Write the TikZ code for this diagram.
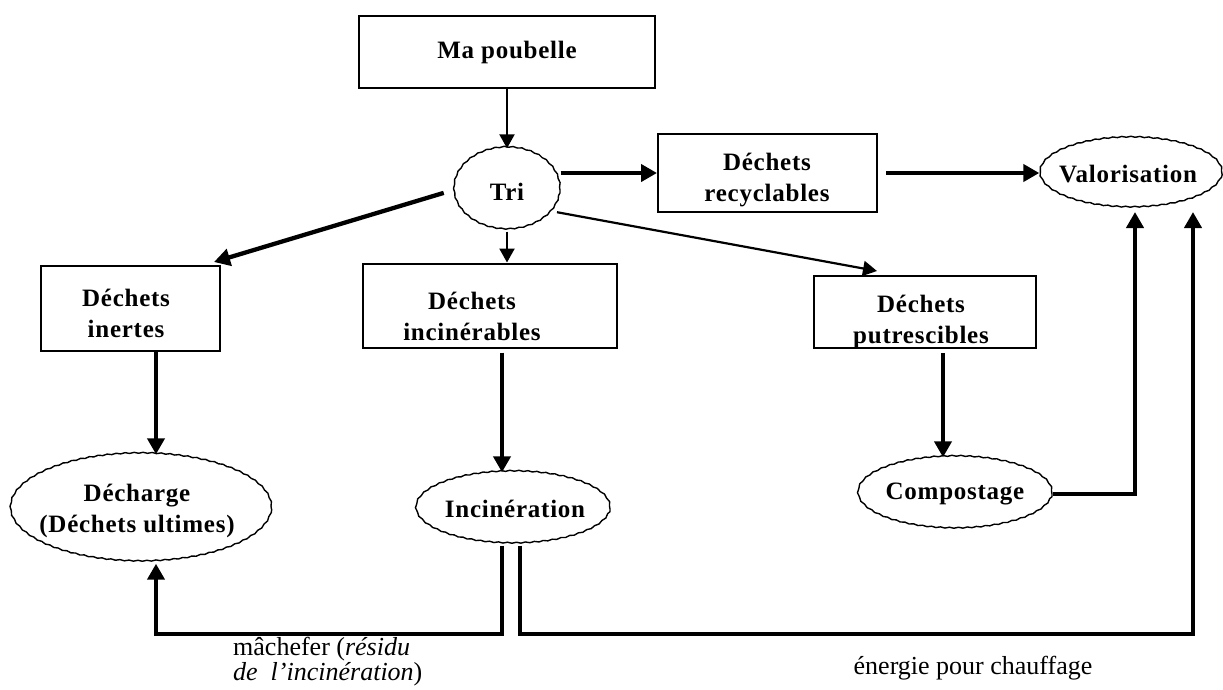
\documentclass[tikz,border=0pt]{standalone}
\usepackage{fontspec}
\setmainfont{Liberation Serif}
\newfontfamily\lsb{Liberation Serif}[LetterSpace=3]
\usetikzlibrary{arrows.meta,shapes.geometric,decorations.pathmorphing}
\begin{document}
\begin{tikzpicture}[x=1pt,y=-1pt,
  boxshape/.style={draw, line width=2pt, rectangle, inner sep=0},
  ovalshape/.style={draw, line width=1.4pt, ellipse, inner sep=0, decorate,
     decoration={snake, amplitude=0.5pt, segment length=9pt}},
  boxtxt/.style={font=\lsb\bfseries\fontsize{25}{31}\selectfont, align=center, inner sep=0},
  lbl/.style={font=\fontsize{26}{25}\selectfont, align=left, inner sep=0},
  thickarr/.style={line width=4.3pt, line join=miter, -{Triangle[length=16pt,width=17pt]}},
  thinarr/.style={line width=2.2pt, -{Triangle[length=14pt,width=15pt]}}]
\useasboundingbox (0,0) rectangle (1223,689);
% shapes
\node[boxshape, minimum width=296pt, minimum height=72pt] (mp) at (507,52) {};
\node[ovalshape, minimum width=106pt, minimum height=82pt] (tri) at (507,190) {};
\node[boxshape, minimum width=219pt, minimum height=78pt] (rec) at (767.5,173) {};
\node[ovalshape, minimum width=182pt, minimum height=70pt] (val) at (1131,174) {};
\node[boxshape, minimum width=179pt, minimum height=85pt] (ine) at (130.5,308.5) {};
\node[boxshape, minimum width=254pt, minimum height=84pt] (inc) at (490,305.5) {};
\node[boxshape, minimum width=222pt, minimum height=72pt] (put) at (925,312) {};
\node[ovalshape, minimum width=261pt, minimum height=108pt] (dec) at (141,509) {};
\node[ovalshape, minimum width=194pt, minimum height=72pt] (icn) at (513,509) {};
\node[ovalshape, minimum width=194pt, minimum height=72pt] (com) at (955,494) {};
% texts
\node[boxtxt] (mpt) at (507,52) {Ma poubelle};
\node[boxtxt] (trit) at (507,192) {Tri};
\node[boxtxt] (rect) at (767,180) {Déchets\\recyclables};
\node[boxtxt] (valt) at (1128,174) {Valorisation};
\node[boxtxt] (inet) at (126,313) {Déchets\\inertes};
\node[boxtxt] (inct) at (472,316) {Déchets\\incinérables};
\node[boxtxt] (putt) at (921,322) {Déchets\\putrescibles};
\node[boxtxt] (dect) at (137,511) {Décharge\\(Déchets ultimes)};
\node[boxtxt] (icnt) at (515,509) {Incinération};
\node[boxtxt] (comt) at (955,494) {Compostage};
\node[lbl, anchor=north west] (lab1) at (233,637) {mâchefer (\textit{résidu}\\\textit{de~~l\char39incinération})};
\node[lbl] (lab2) at (973,668) {énergie pour chauffage};
% helper coordinates
\coordinate (xdec) at (156,0);
\coordinate (xinc) at (502,0);
\coordinate (xinr) at (520,0);
\coordinate (xput) at (943,0);
\coordinate (xv1) at (1135,0);
\coordinate (xv2) at (1193,0);
\coordinate (ybot) at (0,634);
\coordinate (yv) at (0,212);
% connectors
\draw[thinarr] (mp.south) -- (tri.north);
\draw[thickarr] (tri.east |- rec.west) -- (rec.west);
\draw[thickarr, shorten <=8pt] (rec.east) -- (rec.east -| val.west);
\draw[thickarr, shorten <=10pt] (tri.west) -- ([shift={(-7,-3)}]ine.north east);
\draw[thinarr] (tri.south) -- (tri.south |- inc.north);
\draw[thinarr, shorten <=4pt] (tri.-25) -- ([shift={(64,-4)}]put.north west);
\draw[thickarr] (xdec |- ine.south) -- (xdec |- dec.north);
\draw[thickarr, shorten <=4pt] (xinc |- inc.south) -- (xinc |- icn.north);
\draw[thickarr, shorten <=4pt] (xput |- put.south) -- (xput |- com.north);
\draw[thickarr] (com.east) -| (xv1 |- yv);
\draw[thickarr] (xinc |- icn.south) |- (xdec |- ybot) -- (xdec |- dec.south);
\draw[thickarr] (xinr |- icn.south) |- (xv2 |- ybot) -- (xv2 |- yv);
\end{tikzpicture}
\end{document}
